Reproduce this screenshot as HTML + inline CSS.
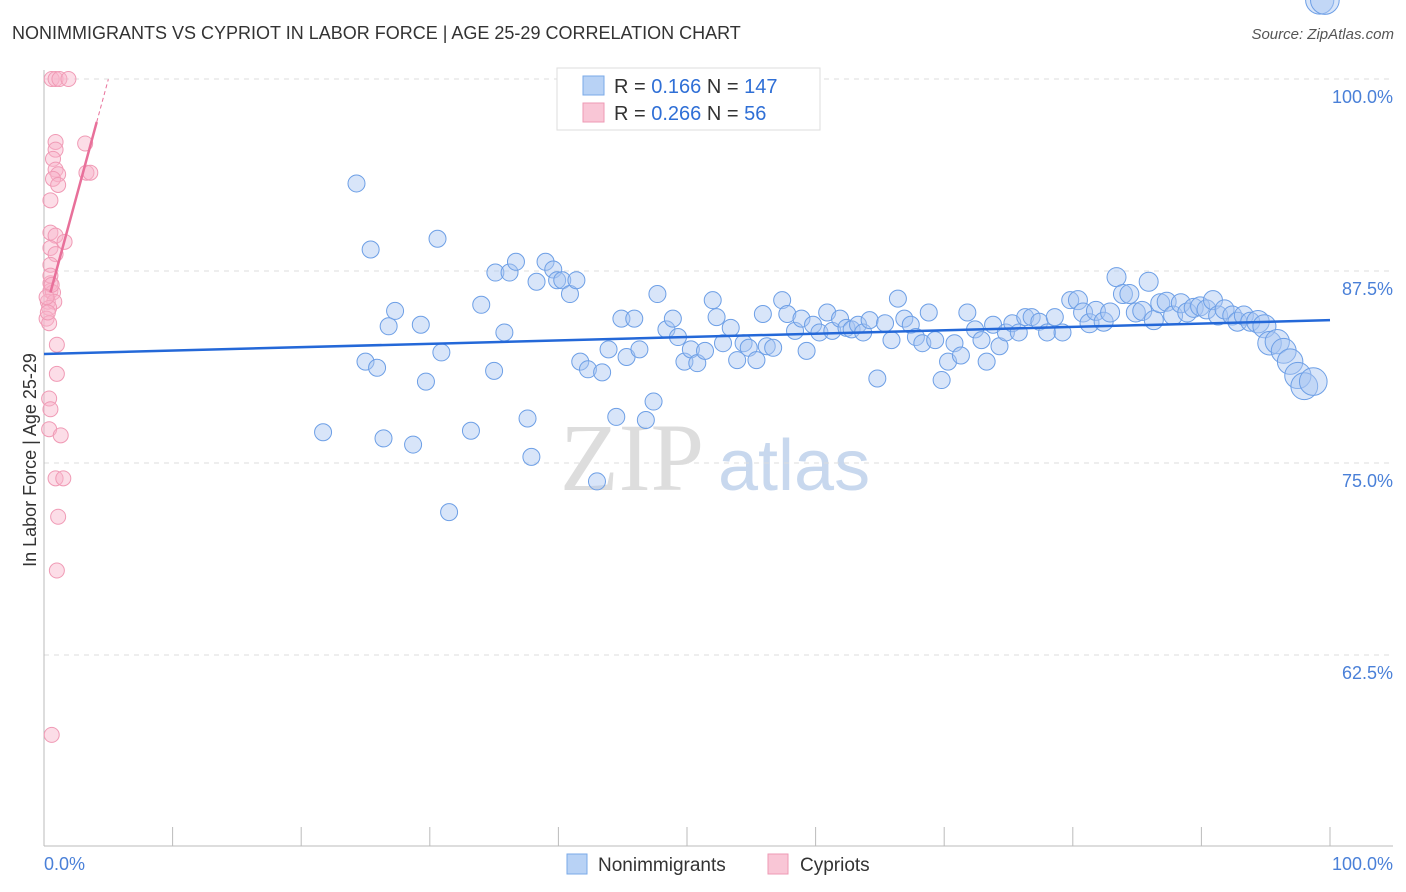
<!DOCTYPE html>
<html><head><meta charset="utf-8"><style>
body{margin:0;background:#fff;font-family:"Liberation Sans",sans-serif;}
#c{position:relative;width:1406px;height:892px;overflow:hidden}
</style></head><body>
<div id="c">
<svg id="s" width="1406" height="892">
<text x="12" y="39" font-size="18" fill="#333">NONIMMIGRANTS VS CYPRIOT IN LABOR FORCE | AGE 25-29 CORRELATION CHART</text>
<text x="1394" y="39" font-size="15" fill="#555" font-style="italic" text-anchor="end">Source: ZipAtlas.com</text>
<text x="560" y="490" font-size="96" fill="#ddd" font-family="Liberation Serif,serif">ZIP</text>
<text x="718" y="490" font-size="72" fill="#c8d8ee">atlas</text>
<g id="grid"></g><g id="axes"></g><g id="pink"></g><g id="blue"></g><g id="lines"></g>
<text x="36" y="460" font-size="18" fill="#333" transform="rotate(-90 36 460)" text-anchor="middle">In Labor Force | Age 25-29</text>
<g>
<rect x="557" y="68" width="263" height="62" fill="#fff" stroke="#ddd"/>
<rect x="583" y="76" width="21" height="19" fill="#b8d2f5" stroke="#7aaae8"/>
<rect x="583" y="103" width="21" height="19" fill="#f9c6d6" stroke="#ee9ab4"/>
<text x="614" y="93" font-size="20" fill="#333">R = <tspan fill="#2f6fd6"> 0.166</tspan>   N = <tspan fill="#2f6fd6">147</tspan></text>
<text x="614" y="120" font-size="20" fill="#333">R = <tspan fill="#2f6fd6">0.266</tspan>   N = <tspan fill="#2f6fd6">  56</tspan></text>
</g>
<g>
<rect x="567" y="854" width="20" height="20" fill="#b8d2f5" stroke="#7aaae8"/>
<text x="598" y="871" font-size="19" fill="#333">Nonimmigrants</text>
<rect x="768" y="854" width="20" height="20" fill="#f9c6d6" stroke="#ee9ab4"/>
<text x="800" y="871" font-size="19" fill="#333">Cypriots</text>
</g>
<text x="44" y="870" font-size="18" fill="#4a80d8">0.0%</text>
<text x="1393" y="870" font-size="18" fill="#4a80d8" text-anchor="end">100.0%</text>
</svg>
</div>
<script>
const yTicks=[100,87.5,75,62.5];
const yTickLabels=["100.0%","87.5%","75.0%","62.5%"];
const blueX=[24.3,25.4,30.6,21.7,26.4,28.7,31.5,25.0,25.9,26.8,27.3,29.3,29.7,30.9,33.2,34.0,35.0,35.1,35.8,36.2,36.7,37.6,37.9,38.3,39.0,39.6,39.9,40.3,40.9,41.4,41.7,42.3,43.0,43.4,43.9,44.5,44.9,45.3,45.9,46.3,46.8,47.4,47.7,48.4,48.9,49.3,49.8,50.3,50.8,51.4,52.0,52.3,52.8,53.4,53.9,54.4,54.8,55.4,55.9,56.2,56.7,57.4,57.8,58.4,58.9,59.3,59.8,60.3,60.9,61.3,61.9,62.4,62.8,63.3,63.7,64.2,64.8,65.4,65.9,66.4,66.9,67.4,67.8,68.3,68.8,69.3,69.8,70.3,70.8,71.3,71.8,72.4,72.9,73.3,73.8,74.3,74.8,75.3,75.8,76.3,76.8,77.4,78.0,78.6,79.2,79.8,80.4,80.8,81.3,81.8,82.4,82.9,83.4,83.9,84.4,84.9,85.4,85.9,86.3,86.8,87.3,87.8,88.4,88.9,89.4,89.9,90.4,90.9,91.3,91.8,92.4,92.8,93.3,93.8,94.4,94.9,95.3,95.9,96.4,96.9,97.5,98.0,98.7,99.2,99.6];
const blueY=[93.2,88.9,89.6,77.0,76.6,76.2,71.8,81.6,81.2,83.9,84.9,84.0,80.3,82.2,77.1,85.3,81.0,87.4,83.5,87.4,88.1,77.9,75.4,86.8,88.1,87.6,86.9,86.9,86.0,86.9,81.6,81.1,73.8,80.9,82.4,78.0,84.4,81.9,84.4,82.4,77.8,79.0,86.0,83.7,84.4,83.2,81.6,82.4,81.5,82.3,85.6,84.5,82.8,83.8,81.7,82.8,82.5,81.7,84.7,82.6,82.5,85.6,84.7,83.6,84.4,82.3,84.0,83.5,84.8,83.6,84.4,83.8,83.7,84.0,83.5,84.3,80.5,84.1,83.0,85.7,84.4,84.0,83.2,82.8,84.8,83.0,80.4,81.6,82.8,82.0,84.8,83.7,83.0,81.6,84.0,82.6,83.5,84.1,83.5,84.5,84.5,84.2,83.5,84.5,83.5,85.6,85.6,84.8,84.1,84.9,84.2,84.8,87.1,86.0,86.0,84.8,84.9,86.8,84.3,85.4,85.5,84.6,85.4,84.8,85.1,85.2,85.0,85.6,84.6,85.0,84.6,84.2,84.6,84.2,84.2,83.9,82.8,82.9,82.3,81.6,80.7,80.0,80.3];
const pinkX=[0.6,0.9,1.2,1.9,0.9,0.9,0.7,0.9,1.1,0.7,1.1,0.5,3.2,3.3,3.6,0.5,0.9,1.6,0.5,0.9,0.5,0.5,0.5,0.7,0.3,0.8,0.4,0.2,0.4,1.0,1.0,0.4,0.5,0.4,1.3,0.9,1.5,1.1,1.0,0.6,0.5,0.6,0.2,0.3];
const pinkY=[100,100,100,100,95.9,95.4,94.8,94.1,93.8,93.5,93.1,92.1,95.8,93.9,93.9,90.0,89.8,89.4,89.0,88.6,87.9,86.7,86.2,86.1,85.5,85.5,85.1,84.4,84.1,82.7,80.8,79.2,78.5,77.2,76.8,74.0,74.0,71.5,68.0,57.3,87.2,86.6,85.8,84.8];
const blueFit=[82.1,84.3];
const pinkFit=[[0.5,86.1],[4.1,97.2]];
const NS="http://www.w3.org/2000/svg";
const X=v=>44+v*12.86, Y=v=>79+(100-v)*15.36;
function mk(t,a,p){const e=document.createElementNS(NS,t);for(const k in a)e.setAttribute(k,a[k]);document.getElementById(p).appendChild(e);return e;}
yTicks.forEach((t,i)=>{
 const l=mk('line',{x1:44,x2:1393,y1:Y(t),y2:Y(t),stroke:'#ddd','stroke-dasharray':'5,5'},'grid');
 
 
 const tx=mk('text',{x:1393,y:Y(t)+24,'font-size':18,fill:'#4a80d8','text-anchor':'end'},'grid');
 tx.textContent=yTickLabels[i];
 
 
});
mk('line',{x1:44,x2:44,y1:70,y2:846,stroke:'#bbb'},'axes');
mk('line',{x1:44,x2:1393,y1:846,y2:846,stroke:'#bbb'},'axes');
for(let i=0;i<=10;i++){const l=mk('line',{x1:X(i*10),x2:X(i*10),y1:827,y2:846,stroke:'#bbb'},'axes');
 
 }
pinkX.forEach((v,i)=>{const c=mk('circle',{cx:X(v),cy:Y(pinkY[i]),r:7.5,fill:'rgba(249,180,202,0.45)',stroke:'#f09ab5','stroke-width':1},'pink');
 
 });
blueX.forEach((v,i)=>{const r=v>80?(v>94?11+ (v-94)*0.6:9.5):8.5;
 const c=mk('circle',{cx:X(v),cy:Y(blueY[i]),r:r,fill:'rgba(168,198,242,0.45)',stroke:'#6d9fe6','stroke-width':1},'blue');
 
 });
const bl=mk('line',{x1:X(0),y1:Y(blueFit[0]),x2:X(100),y2:Y(blueFit[1]),stroke:'#2468d8','stroke-width':2.5},'lines');


const pl=mk('line',{x1:X(pinkFit[0][0]),y1:Y(pinkFit[0][1]),x2:X(pinkFit[1][0]),y2:Y(pinkFit[1][1]),stroke:'#e8709a','stroke-width':2.5},'lines');


const sl=(pinkFit[1][1]-pinkFit[0][1])/(pinkFit[1][0]-pinkFit[0][0]);
const pd=mk('line',{x1:X(pinkFit[1][0]),y1:Y(pinkFit[1][1]),x2:X(pinkFit[1][0]+0.9),y2:Y(pinkFit[1][1]+0.9*sl),stroke:'#e8709a','stroke-width':1,'stroke-dasharray':'4,3'},'lines');


</script>
</body></html>
